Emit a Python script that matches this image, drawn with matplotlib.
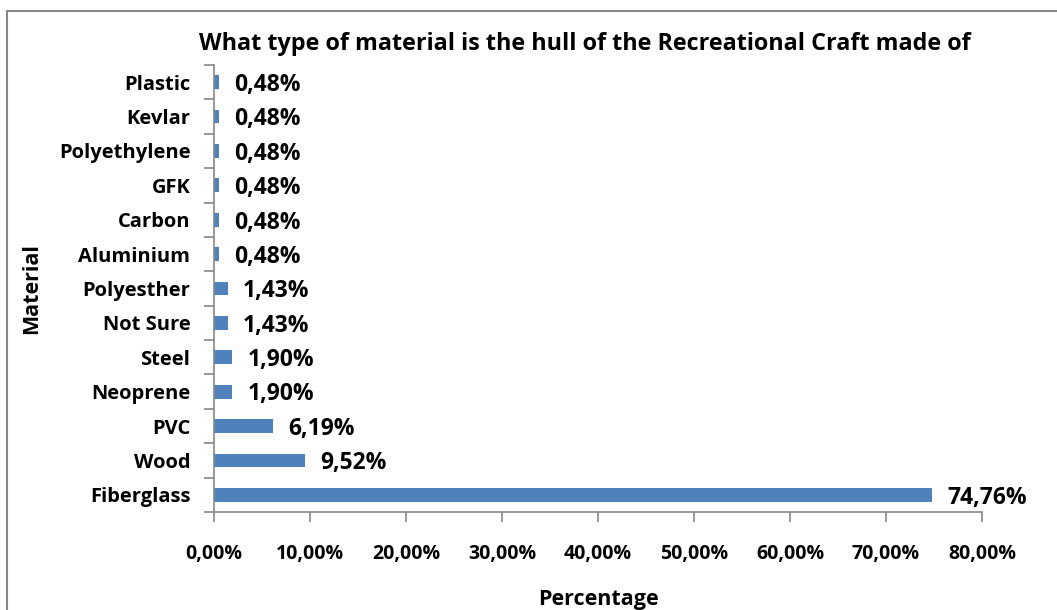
import matplotlib.pyplot as plt
from matplotlib.lines import Line2D
from matplotlib.ticker import FixedLocator, FuncFormatter

# hull materials, bottom to top as drawn
materials = ['Fiberglass', 'Wood', 'PVC', 'Neoprene', 'Steel', 'Not Sure',
             'Polyesther', 'Aluminium', 'Carbon', 'GFK', 'Polyethylene',
             'Kevlar', 'Plastic']
percent = [74.76, 9.52, 6.19, 1.90, 1.90, 1.43, 1.43, 0.48, 0.48, 0.48,
           0.48, 0.48, 0.48]
x_ticks = [0, 10, 20, 30, 40, 50, 60, 70, 80]

plt.rcParams['font.family'] = ['Open Sans', 'DejaVu Sans']
plt.rcParams['font.weight'] = 'bold'

fig = plt.figure(figsize=(10.57, 6.10), dpi=100)
ax = fig.add_axes([0.2025, 0.1607, 0.7265, 0.7327])

pos = range(len(materials))
ax.barh(pos, percent, height=0.4, color='#4F81BD')

for y, v in zip(pos, percent):
    ax.annotate('{:.2f}%'.format(v).replace('.', ','), (v, y),
                xytext=(11, -2), textcoords='offset points', va='center',
                ha='left', fontsize=16.5, fontweight='bold')

ax.set_xlim(0, 80)
ax.set_ylim(-0.5, len(materials) - 0.5)
ax.set_xticks(x_ticks)
ax.xaxis.set_major_formatter(FuncFormatter(lambda v, p: '{:.2f}%'.format(v).replace('.', ',')))
ax.set_yticks(list(pos))
ax.set_yticklabels(materials)
ax.yaxis.set_minor_locator(FixedLocator([i - 0.5 for i in range(len(materials) + 1)]))
ax.tick_params(axis='y', which='major', length=0, pad=17, labelsize=14.5)
ax.tick_params(axis='y', which='minor', length=7, color='#888888', width=1.2)
ax.tick_params(axis='x', length=7, color='#888888', width=1.2, pad=16, labelsize=14)

for s in ['top', 'right']:
    ax.spines[s].set_visible(False)
for s in ['left', 'bottom']:
    ax.spines[s].set_color('#888888')
    ax.spines[s].set_linewidth(1.2)

ax.set_xlabel('Percentage', fontsize=15.5, fontweight='bold', labelpad=18)
ax.set_ylabel('Material', fontsize=15.5, fontweight='bold', labelpad=12)
fig.text(0.553, 0.928, 'What type of material is the hull of the Recreational Craft made of',
         ha='center', va='center', fontsize=16.8, fontweight='bold')

# outer chart border
fig.add_artist(Line2D([0.0066, 0.0066, 1.0], [0.0, 0.982, 0.982],
                      transform=fig.transFigure, color='#888888', lw=1.5))

fig.savefig('out.png', dpi=100)
